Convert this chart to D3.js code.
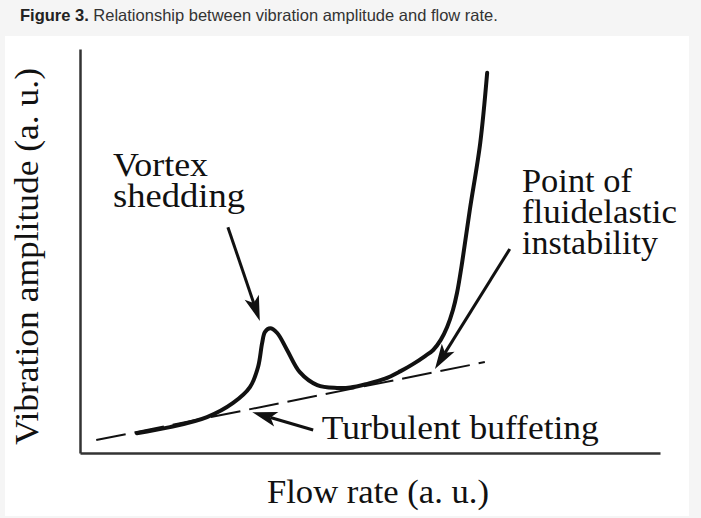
<!DOCTYPE html>
<html>
<head>
<meta charset="utf-8">
<script src="https://cdn.jsdelivr.net/npm/d3@7"></script>
<style>
  html, body { margin: 0; padding: 0; background: #f5f5f5; }
  svg { display: block; }
</style>
</head>
<body>
<svg id="chart" width="701" height="518"></svg>
<script>
// ---- data (arbitrary units) ----
const curveX = [9.8, 15.5, 21.9, 26.4, 29.3, 30.7, 31.4, 31.9, 32.8, 34.0, 35.7, 37.9, 40.9, 44.3, 46.6, 49.5, 52.6, 55.2, 57.4, 59.5, 60.9, 62.2, 63.3, 64.3, 65.0, 65.9, 67.2, 69.0, 70.2];
const curveY = [4.9, 6.4, 8.9, 12.4, 16.3, 21.3, 27.2, 30.0, 30.9, 29.7, 25.5, 20.0, 16.8, 16.1, 16.2, 17.1, 18.4, 20.2, 22.0, 24.0, 25.5, 28.0, 31.2, 35.4, 39.6, 47.3, 60.1, 76.7, 94.1];
const buffetX = [2.8, 69.8];
const buffetY = [3.2, 22.5];
const annotations = ["Vortex shedding", "Point of fluidelastic instability", "Turbulent buffeting"];
const arrowFromX = [25.5, 74.1, 40.2];
const arrowFromY = [55.9, 50.5, 5.7];
const arrowToX = [31.0, 61.2, 29.7];
const arrowToY = [32.7, 20.8, 10.1];
const xLabel = "Flow rate (a. u.)";
const yLabel = "Vibration amplitude (a. u.)";
const titleBold = "Figure 3.";
const titleRest = " Relationship between vibration amplitude and flow rate.";

const svg = d3.select("#chart");
const x = d3.scaleLinear().domain([0, 100]).range([80, 660]);
const y = d3.scaleLinear().domain([0, 100]).range([453, 49]);
const serif = "'Liberation Serif', 'Times New Roman', serif";
const ink = "#111";

// title
const t = svg.append("text").attr("x", 20).attr("y", 21)
  .attr("font-family", "'Liberation Sans', Arial, sans-serif").attr("font-size", 16.5).attr("fill", "#222");
t.append("tspan").attr("font-weight", "bold").text(titleBold);
t.append("tspan").attr("fill", "#333").text(titleRest);

// white panel
svg.append("rect").attr("x", 5).attr("y", 36).attr("width", 684).attr("height", 480).attr("fill", "#fff");

// axes (no ticks)
const xAxis = d3.axisBottom(x).tickValues([]).tickSizeOuter(0);
const yAxis = d3.axisLeft(y).tickValues([]).tickSizeOuter(0);
svg.append("g").attr("transform", `translate(0,${y(0)})`).call(xAxis)
  .select(".domain").attr("stroke", "#333").attr("stroke-width", 2.5);
svg.append("g").attr("transform", `translate(${x(0)},0)`).call(yAxis)
  .select(".domain").attr("stroke", "#333").attr("stroke-width", 2.5);

// dashed turbulent buffeting line
svg.append("line")
  .attr("x1", x(buffetX[0])).attr("y1", y(buffetY[0]))
  .attr("x2", x(buffetX[1])).attr("y2", y(buffetY[1]))
  .attr("stroke", ink).attr("stroke-width", 2).attr("stroke-dasharray", "30 9");

// main response curve
const pts = curveX.map((v, i) => [v, curveY[i]]);
const line = d3.line().x(d => x(d[0])).y(d => y(d[1])).curve(d3.curveCatmullRom.alpha(0.5));
svg.append("path").datum(pts).attr("d", line)
  .attr("fill", "none").attr("stroke", ink).attr("stroke-width", 4)
  .attr("stroke-linecap", "round").attr("stroke-linejoin", "round");

// arrows
arrowFromX.forEach((_, i) => {
  const x1 = x(arrowFromX[i]), y1 = y(arrowFromY[i]);
  const x2 = x(arrowToX[i]), y2 = y(arrowToY[i]);
  const len = Math.hypot(x2 - x1, y2 - y1);
  const ux = (x2 - x1) / len, uy = (y2 - y1) / len;
  const nx = -uy, ny = ux;
  const L = 25, w = 7.5, notch = 6;
  const bx = x2 - L * ux, by = y2 - L * uy;
  const mx = x2 - (L - notch) * ux, my = y2 - (L - notch) * uy;
  svg.append("line").attr("x1", x1).attr("y1", y1).attr("x2", mx).attr("y2", my)
    .attr("stroke", ink).attr("stroke-width", 3);
  svg.append("path")
    .attr("d", `M${x2},${y2}L${bx + w * nx},${by + w * ny}L${mx},${my}L${bx - w * nx},${by - w * ny}Z`)
    .attr("fill", ink);
});

// annotation text
function label(str, px, py, len) {
  svg.append("text").attr("x", px).attr("y", py)
    .attr("font-family", serif).attr("font-size", 33).attr("fill", ink)
    .attr("textLength", len).attr("lengthAdjust", "spacingAndGlyphs").text(str);
}
const vs = annotations[0].split(" ");
label(vs[0], x(5.7), y(68.6), 95);
label(vs[1], x(5.7), y(60.9), 132);
const pf = annotations[1].split(" ");
label(pf[0] + " " + pf[1], x(76.2), y(64.6), 110);
label(pf[2], x(76.2), y(56.9), 155);
label(pf[3], x(76.2), y(49.3), 136);
label(annotations[2], x(41.7), y(3.4), 277);

// axis titles
svg.append("text").attr("x", 267).attr("y", 503)
  .attr("font-family", serif).attr("font-size", 34).attr("fill", ink)
  .attr("textLength", 222).attr("lengthAdjust", "spacingAndGlyphs").text(xLabel);
svg.append("text").attr("transform", "translate(38,445) rotate(-90)")
  .attr("font-family", serif).attr("font-size", 34).attr("fill", ink)
  .attr("textLength", 377).attr("lengthAdjust", "spacingAndGlyphs").text(yLabel);
</script>
</body>
</html>
